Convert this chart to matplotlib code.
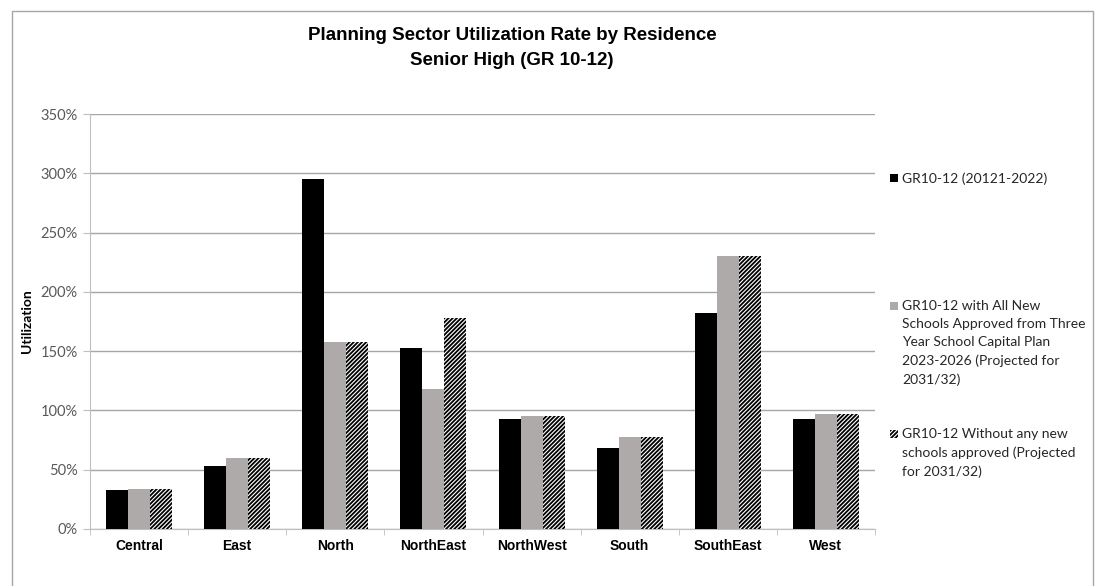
import matplotlib
matplotlib.use("Agg")
import matplotlib.pyplot as plt
from matplotlib.patches import Rectangle
from matplotlib.ticker import FuncFormatter, MultipleLocator
import numpy as np

categories = ["Central", "East", "North", "NorthEast", "NorthWest", "South", "SouthEast", "West"]
current = [33, 53, 295, 153, 93, 68, 182, 93]
with_new = [34, 60, 158, 118, 95, 78, 230, 97]
without_new = [34, 60, 158, 178, 95, 78, 230, 97]
series_labels = [
    "GR10-12 (20121-2022)",
    "GR10-12 with All New\nSchools Approved from Three\nYear School Capital Plan\n2023-2026 (Projected for\n2031/32)",
    "GR10-12 Without any new\nschools approved (Projected\nfor 2031/32)",
]
title = "Planning Sector Utilization Rate by Residence\nSenior High (GR 10-12)"

W, H = 1097, 586
fig = plt.figure(figsize=(W / 100, H / 100), dpi=100)
plt.rcParams['hatch.linewidth'] = 1.3
plt.rcParams['hatch.color'] = 'black'

# outer chart frame
fig.add_artist(Rectangle((12 / W, 1 - 590 / H), (1093 - 12) / W, (590 - 11) / H,
                         transform=fig.transFigure, fill=False, edgecolor="#A6A6A6", lw=1.0))

ax = fig.add_axes([90 / W, (H - 529) / H, (875 - 90) / W, (529 - 114) / H])

x = np.arange(len(categories))
bw = 0.224
gray = "#AEAAAA"
ax.bar(x - bw, current, bw, color="black", zorder=3)
ax.bar(x, with_new, bw, color=gray, zorder=3)
ax.bar(x + bw, without_new, bw, color="white", edgecolor="black", hatch="////////", lw=0, zorder=3)

ax.set_xlim(-0.5, len(categories) - 0.5)
ax.set_ylim(0, 350)
ax.yaxis.set_major_locator(MultipleLocator(50))
ax.yaxis.set_major_formatter(FuncFormatter(lambda v, p: f"{int(v)}%"))
ax.grid(axis="y", color="#A6A6A6", lw=1.0, zorder=0)
ax.set_axisbelow(True)

for s in ["top", "right"]:
    ax.spines[s].set_visible(False)
ax.spines["left"].set_color("#BFBFBF")
ax.spines["bottom"].set_color("#BFBFBF")

ax.set_xticks(x)
ax.set_xticklabels(categories, fontsize=10, fontweight="bold", family="Liberation Sans")
ax.tick_params(axis="x", length=0, pad=7)
ax.set_xticks(np.arange(len(categories) + 1) - 0.5, minor=True)
ax.tick_params(axis="x", which="minor", length=4, color="#BFBFBF", direction="out")
ax.tick_params(axis="y", length=5, color="#BFBFBF", labelsize=10.5, labelcolor="#595959", pad=4)
for lbl in ax.get_yticklabels():
    lbl.set_family("Lato")

ax.set_ylabel("Utilization", fontsize=10, fontweight="bold", family="Lato", labelpad=5)

fig.text(512 / W, 1 - 48 / H, title, ha="center", va="center", fontsize=13.5,
         fontweight="bold", family="Liberation Sans", linespacing=1.55)

# legend
leg_x_marker = 890
leg_x_text = 902
entries = [(178, "black", None, "black"), (306, gray, None, gray), (434, "white", "////////", "black")]
for (ytop, fc, hatch, ec), label in zip(entries, series_labels):
    sz = 8
    fig.add_artist(Rectangle((leg_x_marker / W, 1 - (ytop + sz / 2) / H), sz / W, sz / H,
                             transform=fig.transFigure, facecolor=fc, edgecolor=ec,
                             hatch=hatch, lw=0))
    fig.text(leg_x_text / W, 1 - (ytop - 5.5) / H, label, ha="left", va="top", fontsize=10,
             family="Lato", color="#262626", linespacing=1.6)

fig.savefig("out.png", dpi=100)
